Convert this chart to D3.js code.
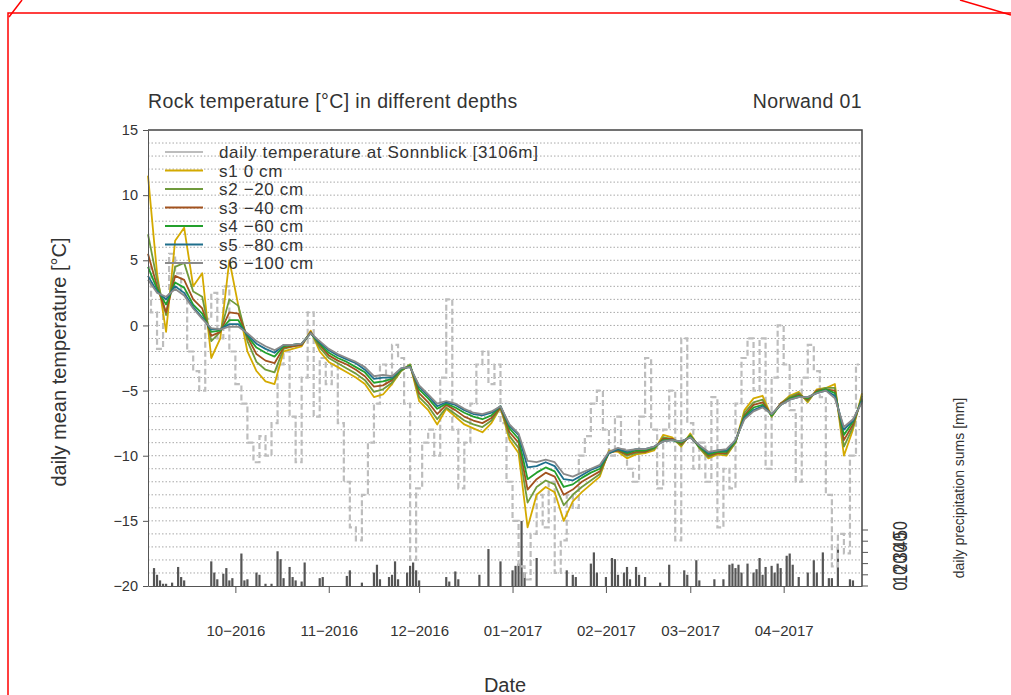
<!DOCTYPE html>
<html>
<head>
<meta charset="utf-8">
<script src="https://cdn.jsdelivr.net/npm/d3@7"></script>
<style>
  body { margin: 0; background: #fff; }
  svg { display: block; font-family: "Liberation Sans", Arial, sans-serif; }
  .axis text { fill: #333; }
  .axis path, .axis line { stroke: #555; }
</style>
</head>
<body>
<svg id="chart" width="1011" height="695"></svg>
<script>
// sensor readings every 3 days from 2016-09-02
const sensorStart = new Date(2016, 8, 2);
const sensorStep = 3;
const s1 = [11.5,4.0,-0.5,6.5,7.5,3.0,4.0,-2.5,-1.0,5.0,
  1.5,-2.0,-3.5,-4.3,-4.5,-2.0,-1.8,-1.6,-0.4,-2.0,
  -2.8,-3.2,-3.6,-4.0,-4.5,-5.5,-5.3,-4.5,-3.5,-3.0,
  -5.8,-6.5,-7.6,-6.4,-7.0,-7.6,-7.9,-8.2,-7.5,-6.3,
  -8.8,-9.8,-15.5,-13.0,-12.4,-12.8,-15.0,-13.5,-12.8,-12.2,
  -11.6,-9.6,-9.7,-10.2,-9.9,-9.8,-9.6,-8.4,-8.6,-9.3,
  -8.3,-9.4,-10.2,-9.9,-10.0,-9.0,-6.5,-5.6,-5.4,-7.0,
  -6.0,-5.4,-5.1,-5.9,-4.9,-4.8,-4.5,-10.0,-8.0,-5.2];
const s2 = [7.0,3.5,0.8,4.5,4.8,2.6,2.2,-1.2,-0.5,2.0,
  1.5,-1.2,-2.8,-3.4,-3.6,-1.8,-1.6,-1.5,-0.5,-1.7,
  -2.5,-2.9,-3.3,-3.7,-4.2,-5.1,-4.9,-4.4,-3.5,-3.0,
  -5.5,-6.2,-7.2,-6.3,-6.8,-7.3,-7.6,-7.8,-7.3,-6.3,
  -8.5,-9.4,-13.6,-12.4,-11.9,-12.2,-13.8,-13.0,-12.4,-11.9,
  -11.4,-9.7,-9.6,-10.0,-9.8,-9.7,-9.5,-8.6,-8.7,-9.2,
  -8.4,-9.4,-10.1,-9.8,-9.9,-9.0,-6.7,-5.9,-5.7,-7.0,
  -6.0,-5.5,-5.2,-5.8,-5.0,-4.8,-4.8,-9.3,-7.8,-5.4];
const s3 = [5.5,3.0,1.0,3.8,3.5,2.0,1.3,-0.8,-0.5,1.0,
  0.9,-0.9,-2.2,-2.7,-2.9,-1.7,-1.6,-1.5,-0.5,-1.5,
  -2.3,-2.7,-3.0,-3.4,-3.9,-4.7,-4.6,-4.2,-3.4,-3.1,
  -5.2,-5.9,-6.8,-6.1,-6.5,-7.0,-7.3,-7.5,-7.1,-6.3,
  -8.2,-9.0,-12.6,-11.8,-11.3,-11.6,-13.0,-12.6,-12.0,-11.6,
  -11.2,-9.8,-9.6,-9.9,-9.7,-9.7,-9.4,-8.7,-8.7,-9.1,
  -8.5,-9.3,-10.0,-9.8,-9.8,-8.9,-6.9,-6.1,-5.9,-6.9,
  -6.0,-5.6,-5.3,-5.7,-5.0,-4.9,-5.0,-8.8,-7.6,-5.6];
const s4 = [4.5,2.8,1.6,3.3,2.9,1.6,0.9,-0.5,-0.4,0.4,
  0.4,-0.8,-1.7,-2.1,-2.4,-1.6,-1.5,-1.4,-0.6,-1.4,
  -2.1,-2.5,-2.8,-3.2,-3.6,-4.4,-4.3,-4.1,-3.4,-3.1,
  -4.9,-5.6,-6.4,-6.0,-6.3,-6.7,-7.0,-7.2,-6.9,-6.2,
  -7.9,-8.7,-11.8,-11.3,-10.9,-11.2,-12.4,-12.2,-11.7,-11.3,
  -11.0,-9.8,-9.5,-9.8,-9.6,-9.6,-9.4,-8.8,-8.8,-9.0,
  -8.5,-9.3,-9.9,-9.7,-9.7,-8.9,-7.0,-6.3,-6.1,-6.9,
  -6.1,-5.6,-5.4,-5.6,-5.1,-4.9,-5.2,-8.4,-7.4,-5.7];
const s5 = [3.8,2.6,2.0,3.0,2.5,1.4,0.6,-0.3,-0.3,0.1,
  0.1,-0.7,-1.4,-1.8,-2.1,-1.5,-1.5,-1.4,-0.6,-1.3,
  -1.9,-2.3,-2.6,-2.9,-3.4,-4.1,-4.0,-4.0,-3.3,-3.2,
  -4.7,-5.4,-6.2,-5.9,-6.1,-6.5,-6.8,-6.9,-6.7,-6.2,
  -7.7,-8.4,-10.9,-10.8,-10.5,-10.8,-11.8,-11.9,-11.5,-11.1,
  -10.8,-9.8,-9.5,-9.7,-9.5,-9.5,-9.3,-8.9,-8.8,-8.9,
  -8.6,-9.2,-9.8,-9.6,-9.6,-8.8,-7.1,-6.5,-6.2,-6.8,
  -6.1,-5.7,-5.5,-5.5,-5.2,-5.0,-5.4,-8.0,-7.3,-5.8];
const s6 = [3.5,2.5,2.2,2.8,2.3,1.3,0.5,-0.2,-0.3,-0.1,
  -0.1,-0.6,-1.2,-1.6,-1.9,-1.5,-1.5,-1.4,-0.6,-1.2,
  -1.8,-2.2,-2.5,-2.8,-3.2,-3.9,-3.8,-3.9,-3.3,-3.2,
  -4.6,-5.3,-6.0,-5.8,-6.0,-6.4,-6.7,-6.8,-6.6,-6.2,
  -7.6,-8.3,-10.4,-10.5,-10.3,-10.5,-11.4,-11.6,-11.3,-11.0,
  -10.7,-9.7,-9.4,-9.6,-9.5,-9.5,-9.3,-8.9,-8.8,-8.9,
  -8.6,-9.2,-9.7,-9.6,-9.5,-8.8,-7.2,-6.6,-6.3,-6.8,
  -6.1,-5.7,-5.5,-5.5,-5.2,-5.0,-5.6,-7.8,-7.2,-5.9];

// Sonnblick air temperature, every 2 days from 2016-09-02
const airStep = 2;
const airT = [4.5,1.0,-1.8,2.0,5.5,4.0,2.5,-2.0,-3.5,-5.0,
  0.5,2.5,-1.0,3.0,-2.0,-4.5,-6.0,-9.0,-10.5,-8.5,
  -10.0,-7.5,-3.0,-2.0,-7.0,-10.5,-4.0,1.0,-7.0,-2.5,
  -4.5,-3.0,-7.5,-12.0,-15.5,-16.5,-13.0,-9.0,-6.0,-3.0,
  -4.5,-1.5,-2.5,-6.0,-18.0,-12.5,-9.0,-8.0,-10.0,-4.0,
  2.0,-8.0,-12.5,-9.0,-6.0,-3.0,-2.0,-4.5,-3.0,-7.5,
  -12.0,-15.0,-18.5,-19.5,-16.0,-13.0,-15.5,-12.0,-19.0,-16.5,
  -13.0,-14.0,-10.0,-8.5,-6.0,-5.0,-8.0,-10.0,-7.0,-9.5,
  -11.0,-12.0,-7.0,-2.5,-8.0,-12.5,-8.0,-5.0,-16.5,-1.0,
  -7.5,-11.0,-9.0,-12.0,-5.5,-15.5,-11.0,-12.5,-6.0,-2.5,
  -1.0,-5.0,-1.0,-11.0,-4.0,0.0,-3.0,-6.5,-12.0,-4.0,
  -1.5,-3.5,-5.5,-13.0,-18.5,-16.0,-17.5,-10.0,-3.0];

// daily precipitation: day offset from 2016-09-02 and sum in mm
const precipDay = [2,3,4,5,6,8,10,11,12,21,22,23,25,26,27,28,31,32,33,36,37,39,41,43,44,45,47,48,49,51,52,
  57,58,66,67,71,75,76,77,80,81,82,83,86,87,88,89,90,99,100,102,103,110,113,117,121,122,123,124,125,129,
  139,141,142,147,148,149,152,154,155,156,158,159,160,162,163,165,170,173,178,179,182,183,188,191,
  193,194,195,196,197,199,201,202,203,204,205,207,208,209,210,212,213,214,216,219,221,222,224,226,227,229,233,234];
const precipMM = [16,10,5,2,2,3,17,8,5,22,12,6,11,16,5,7,29,5,6,12,10,2,2,31,24,7,17,8,5,4,21,
  7,8,9,14,3,12,19,6,8,10,22,6,12,18,21,14,5,8,4,13,6,10,33,22,14,18,20,58,12,25,
  14,10,8,20,30,12,8,25,24,10,12,17,6,17,10,8,3,19,14,10,23,5,6,6,
  19,20,16,19,12,20,12,15,25,10,17,18,12,20,16,27,29,19,8,12,23,12,30,7,7,35,6,5];

const tempTicks = [-20, -15, -10, -5, 0, 5, 10, 15];
const precipTicks = [0, 10, 20, 30, 40, 50];

const sensors = [
  { label: 's1 0 cm', values: s1, color: '#d4aa00' },
  { label: 's2 \u221220 cm', values: s2, color: '#6f9a3c' },
  { label: 's3 \u221240 cm', values: s3, color: '#a2521e' },
  { label: 's4 \u221260 cm', values: s4, color: '#23a02c' },
  { label: 's5 \u221280 cm', values: s5, color: '#1e6f8c' },
  { label: 's6 \u2212100 cm', values: s6, color: '#8a8a8a' },
];

const svg = d3.select('#chart');

const x = d3.scaleTime()
  .domain([new Date(2016, 8, 2), new Date(2017, 3, 27)])
  .range([148, 862]);
const y = d3.scaleLinear().domain([-20, 15]).range([586, 130]);
const yP = d3.scaleLinear().domain([0, 50]).range([586, 530]);

// page border
const border = svg.append('g').attr('stroke', 'red').attr('stroke-width', 1.5).attr('fill', 'none');
border.append('path').attr('d', 'M8,695 L8,13 L1011,13');
border.append('path').attr('d', 'M9,17 L22,0');
border.append('path').attr('d', 'M960,0 L1011,15');

// dotted grid every degree
svg.append('g')
  .selectAll('line')
  .data(d3.range(-19, 15))
  .join('line')
  .attr('x1', 148).attr('x2', 862)
  .attr('y1', (d) => y(d)).attr('y2', (d) => y(d))
  .attr('stroke', '#a8a8a8')
  .attr('stroke-width', 1)
  .attr('stroke-dasharray', '1.5,2');

// precipitation bars
svg.append('g')
  .selectAll('rect')
  .data(precipDay.map((d, i) => ({ day: d, mm: precipMM[i] })))
  .join('rect')
  .attr('x', (d) => x(d3.timeDay.offset(sensorStart, d.day)) - 1.1)
  .attr('width', 2.2)
  .attr('y', (d) => yP(d.mm))
  .attr('height', (d) => yP(0) - yP(d.mm))
  .attr('fill', '#555');

// air temperature, grey dashed steps
const airLine = d3.line()
  .x((d, i) => x(d3.timeDay.offset(sensorStart, i * airStep)))
  .y((d) => y(d))
  .curve(d3.curveStep);
svg.append('path')
  .attr('d', airLine(airT))
  .attr('fill', 'none')
  .attr('stroke', '#bdbdbd')
  .attr('stroke-width', 2.2)
  .attr('stroke-dasharray', '6,3');

// rock temperatures
const sensorLine = d3.line()
  .x((d, i) => x(d3.timeDay.offset(sensorStart, i * sensorStep)))
  .y((d) => y(d));
sensors.forEach((s) => {
  svg.append('path')
    .attr('d', sensorLine(s.values))
    .attr('fill', 'none')
    .attr('stroke', s.color)
    .attr('stroke-width', 1.8)
    .attr('stroke-linejoin', 'round');
});

// frame: top and right
svg.append('path')
  .attr('d', 'M148,130 L862,130 L862,586')
  .attr('fill', 'none')
  .attr('stroke', '#444')
  .attr('stroke-width', 1.5);

// left axis
const yAxis = svg.append('g')
  .attr('class', 'axis')
  .attr('transform', 'translate(148,0)')
  .call(d3.axisLeft(y).tickValues(tempTicks).tickSize(5).tickSizeOuter(0).tickPadding(5)
    .tickFormat((d) => (d < 0 ? '\u2212' + Math.abs(d) : d)));
yAxis.selectAll('text').attr('font-size', 14.5);

// bottom axis
const xAxis = svg.append('g')
  .attr('class', 'axis')
  .attr('transform', 'translate(0,586)')
  .call(d3.axisBottom(x).ticks(d3.timeMonth.every(1)).tickFormat(d3.timeFormat('%m\u2212%Y'))
    .tickSize(7).tickSizeOuter(0).tickPadding(32));
xAxis.selectAll('text').attr('font-size', 15);
xAxis.select('.domain').attr('stroke', '#444');

// right precipitation axis
const pAxis = svg.append('g');
pAxis.selectAll('line')
  .data(precipTicks)
  .join('line')
  .attr('x1', 862).attr('x2', 868)
  .attr('y1', (d) => yP(d)).attr('y2', (d) => yP(d))
  .attr('stroke', '#555');
pAxis.selectAll('text')
  .data(precipTicks)
  .join('text')
  .attr('transform', (d) => `translate(907,${yP(d)}) rotate(-90) scale(1,1.3)`)
  .attr('text-anchor', 'middle')
  .attr('font-size', 16)
  .attr('fill', '#333')
  .text((d) => d);

// titles
svg.append('text')
  .attr('x', 148).attr('y', 108)
  .attr('font-size', 19.5).attr('fill', '#333')
  .attr('letter-spacing', 0.4)
  .text('Rock temperature [\u00b0C] in different depths');
svg.append('text')
  .attr('x', 862).attr('y', 108)
  .attr('text-anchor', 'end')
  .attr('font-size', 19.5).attr('fill', '#333')
  .attr('letter-spacing', 0.4)
  .text('Norwand 01');
svg.append('text')
  .attr('transform', 'translate(66,362) rotate(-90)')
  .attr('text-anchor', 'middle')
  .attr('font-size', 20).attr('fill', '#333')
  .text('daily mean temperature [\u00b0C]');
svg.append('text')
  .attr('x', 505).attr('y', 692)
  .attr('text-anchor', 'middle')
  .attr('font-size', 20).attr('fill', '#333')
  .text('Date');
svg.append('text')
  .attr('transform', 'translate(964,488) rotate(-90)')
  .attr('text-anchor', 'middle')
  .attr('font-size', 14).attr('fill', '#333')
  .text('daily precipitation sums [mm]');

// legend
const legendItems = [{ label: 'daily temperature at Sonnblick [3106m]', color: '#bdbdbd', width: 2.2 }]
  .concat(sensors.map((s) => ({ label: s.label, color: s.color, width: 1.8 })));
const legend = svg.append('g');
legendItems.forEach((d, i) => {
  const ly = 152 + i * 18.5;
  legend.append('line')
    .attr('x1', 165).attr('x2', 203)
    .attr('y1', ly).attr('y2', ly)
    .attr('stroke', d.color).attr('stroke-width', d.width);
  legend.append('text')
    .attr('x', 219).attr('y', ly + 6)
    .attr('font-size', 17).attr('fill', '#333')
    .attr('letter-spacing', 0.65)
    .text(d.label);
});
</script>
</body>
</html>
